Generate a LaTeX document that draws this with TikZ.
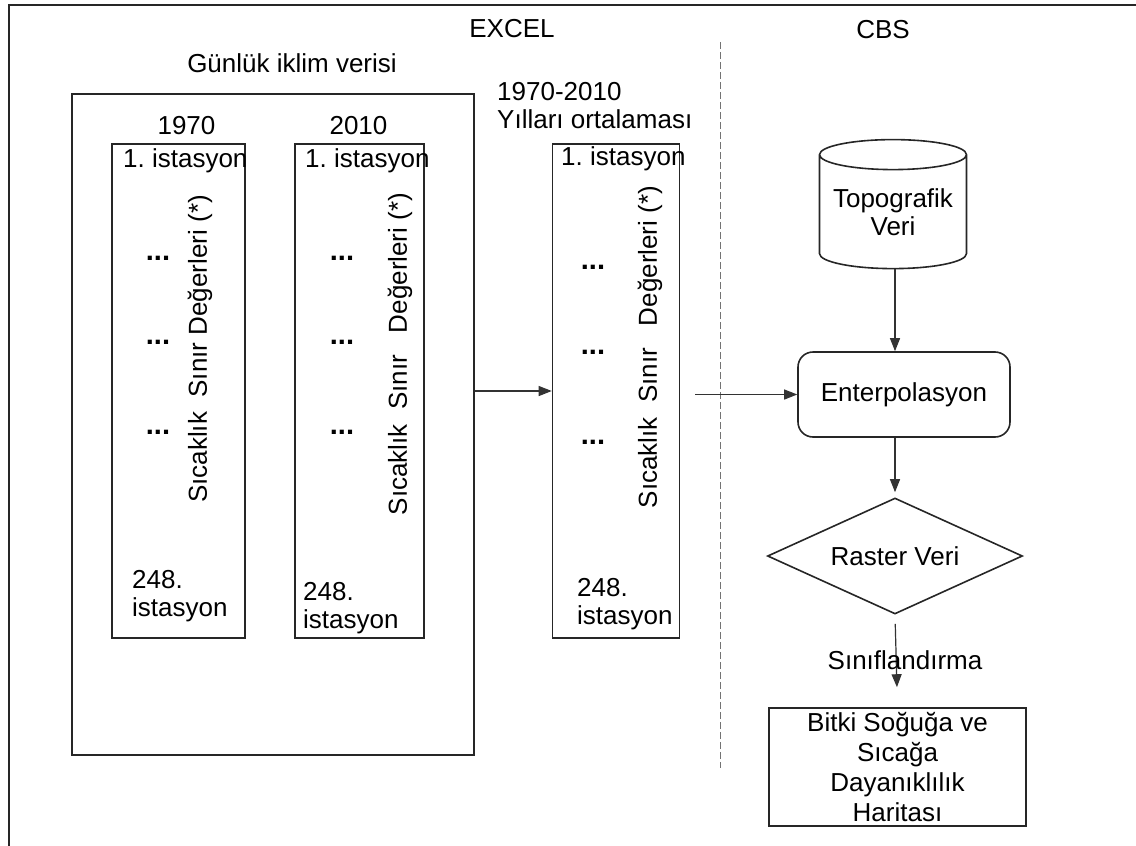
\documentclass[tikz,border=0pt]{standalone}
\usepackage{fontspec}
\setmainfont{Liberation Sans}
\usepackage{tikz}
\usetikzlibrary{positioning,shapes.geometric,arrows.meta}
\frenchspacing
\tikzset{
  every node/.style={font=\fontsize{26}{28}\selectfont,inner sep=0pt},
  stationbox/.style={draw=black!85,line width=1.6pt,minimum height=494pt},
  flowarrow/.style={draw=black!80,line width=1.2pt,-{Triangle[length=13pt,width=10pt]}},
  dots/.style={font=\fontsize{29}{30}\selectfont\bfseries},
}
\begin{document}
\begin{tikzpicture}[x=1pt,y=-1pt]
  \useasboundingbox (0,0) rectangle (1136,846);
  % frame
  \draw[line width=1.4pt,black!85] (9,846) -- (9,5) -- (1136,5);
  \draw[black!55,line width=0.8pt,dash pattern=on 7pt off 3pt] (720,42) -- (720,768);
  % titles
  \node (excel) at (512,29) {EXCEL};
  \node (cbs) at (883,30) {CBS};
  \node (gunluk) at (292,63) {Günlük iklim verisi};
  % excel part
  \node[draw=black!85,line width=1.6pt,minimum width=402pt,minimum height=661pt] (daily) at (273,424.5) {};
  \node[stationbox,minimum width=133pt] (y1970) at (178.5,391) {};
  \node[stationbox,minimum width=129pt] (y2010) at (359.5,391) {};
  \node[stationbox,minimum width=127pt] (mean) at (616,391) {};
  \node[above=8pt of y1970,xshift=8pt] (t1970) {1970};
  \node[above=8pt of y2010,xshift=-1pt] (t2010) {2010};
  \node[anchor=west,align=left] (tmean) at (497,106) {1970-2010\\Yılları ortalaması};
  % station lists
  \node[anchor=west] (a1) at (123,161) {1. istasyon};
  \node[anchor=west] (b1) at (305,161) {1. istasyon};
  \node[anchor=west] (c1) at (561,159) {1. istasyon};
  \node[anchor=west,align=left] (a248) at (132,596) {248.\\istasyon};
  \node[anchor=west,align=left] (b248) at (303,608) {248.\\istasyon};
  \node[anchor=west,align=left] (c248) at (577,604) {248.\\istasyon};
  \foreach \y in {258,342,432} {
    \node[dots] at (158,\y) {...};
    \node[dots] at (342,\y) {...};
  }
  \foreach \y in {267,352,442}
    \node[dots] at (593,\y) {...};
  \node[rotate=90] (s1970) at (200,349) {Sıcaklık\ \ Sınır Değerleri (*)};
  \node[rotate=90] (s2010) at (400,354) {Sıcaklık\ \ Sınır\ \ \ Değerleri (*)};
  \node[rotate=90] (smean) at (650,347) {Sıcaklık\ \ Sınır\ \ \ Değerleri (*)};
  % cbs part
  \node[cylinder,shape border rotate=90,draw=black!85,line width=1.6pt,aspect=0.25,
        minimum height=129pt,minimum width=147pt,align=center] (topo) at (893,212) {Topografik\\Veri};
  \node[draw=black!85,line width=1.6pt,rounded corners=15pt,minimum width=212pt,minimum height=85pt] (interp) at (904,394.5) {Enterpolasyon};
  \node[diamond,draw=black!85,line width=1.6pt,minimum width=255pt,minimum height=116pt,aspect=2.2] (raster) at (895,556) {Raster Veri};
  \node[draw=black!85,line width=1.6pt,minimum width=257pt,minimum height=118pt,align=center,font=\fontsize{26}{30}\selectfont] (map) at (897.5,767) {Bitki Soğuğa ve\\Sıcağa\\Dayanıklılık\\Haritası};
  % arrows
  \draw[flowarrow] (daily.east |- mean.west) -- (mean.west);
  \draw[flowarrow] ([xshift=15pt]mean.east |- interp.west) -- (interp.west);
  \draw[flowarrow] (raster.north |- topo.bottom) -- (raster.north |- interp.north);
  \draw[flowarrow,shorten >=5pt] (raster.north |- interp.south) -- (raster.north);
  \draw[flowarrow,shorten <=9pt,shorten >=20pt] (raster.south) -- (map.north);
  \node (sinif) at (905,660) {Sınıflandırma};
\end{tikzpicture}
\end{document}
